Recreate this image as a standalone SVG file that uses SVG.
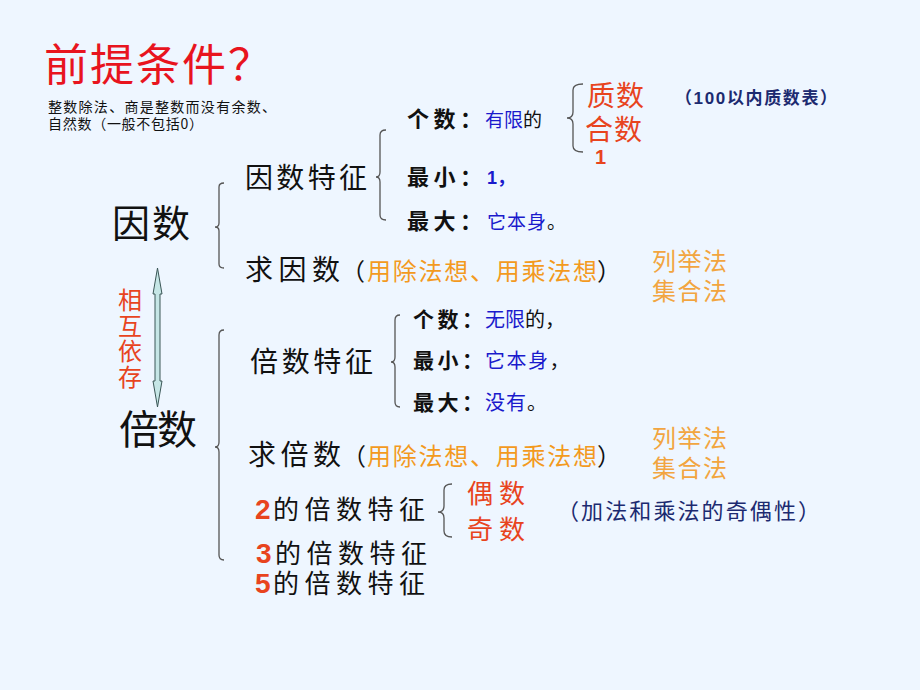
<svg xmlns="http://www.w3.org/2000/svg" width="920" height="690" viewBox="0 0 920 690">
<style>
text{font-family:"Noto Sans CJK SC","Noto Sans CJK JP",sans-serif;fill:#111}
.lat{font-family:"Liberation Sans","Noto Sans CJK SC",sans-serif}
.red{fill:#E8141E}
.ro{fill:#E8441E}
.or{fill:#F39A1E}
.lo{fill:#F2A540}
.bl{fill:#1A1ACC}
.nv{fill:#1C2A70}
.b{font-weight:bold}
.brace{fill:none;stroke:#555;stroke-width:1.3}
</style>
<rect width="920" height="690" fill="#EEF6FF"/>

<g id="title">
<text class="red" x="44" y="81" font-size="44" textLength="228" lengthAdjust="spacing">前提条件？</text>
<text x="48" y="112" font-size="14" textLength="228" lengthAdjust="spacing">整数除法、商是整数而没有余数、</text>
<text x="48" y="129" font-size="14" textLength="155" lengthAdjust="spacing">自然数（一般不包括0）</text>
</g>

<g id="yinshu">
<text x="112" y="237" font-size="38" textLength="78" lengthAdjust="spacing">因数</text>
</g>
<g id="beishu">
<text x="119" y="444" font-size="40" textLength="78" lengthAdjust="spacing">倍数</text>
</g>
<g id="xianghu">
<text class="ro" x="130" y="288" font-size="24" writing-mode="vertical-rl" letter-spacing="1.5">相互依存</text>
</g>

<g id="yinshu-tezheng">
<text x="245" y="188" font-size="28" textLength="122" lengthAdjust="spacing">因数特征</text>
</g>
<g id="yin-geshu">
<text class="b" x="407" y="127" font-size="22" textLength="75" lengthAdjust="spacing">个数：</text>
<text x="485" y="127" font-size="19"><tspan class="bl">有限</tspan>的</text>
</g>
<g id="yin-zuixiao">
<text class="b" x="407" y="185" font-size="22" textLength="75" lengthAdjust="spacing">最小：</text>
<text class="bl b lat" x="487" y="184" font-size="18">1，</text>
</g>
<g id="yin-zuida">
<text class="b" x="407" y="229" font-size="22" textLength="75" lengthAdjust="spacing">最大：</text>
<text x="487" y="229" font-size="19" letter-spacing="1"><tspan class="bl">它本身</tspan>。</text>
</g>
<g id="zhishu">
<text class="ro" x="587" y="106" font-size="28" textLength="57" lengthAdjust="spacing">质数</text>
<text class="nv b lat" x="675" y="104" font-size="17" textLength="162" lengthAdjust="spacing">（100以内质数表）</text>
</g>
<g id="heshu">
<text class="ro" x="585" y="140" font-size="28" textLength="57" lengthAdjust="spacing">合数</text>
</g>
<g id="one">
<text class="ro b lat" x="595" y="164" font-size="20">1</text>
</g>

<g id="qiu-yinshu">
<text x="245" y="280" font-size="28" textLength="95" lengthAdjust="spacing">求因数</text>
<text x="341" y="280" font-size="24">（</text>
<text class="or" x="367" y="280" font-size="24" textLength="230" lengthAdjust="spacing">用除法想、用乘法想</text>
<text x="597" y="280" font-size="24">）</text>
</g>
<g id="fangfa-1">
<text class="lo" x="652" y="270" font-size="24" textLength="75" lengthAdjust="spacing">列举法</text>
<text class="lo" x="652" y="300" font-size="24" textLength="75" lengthAdjust="spacing">集合法</text>
</g>

<g id="beishu-tezheng">
<text x="250" y="372" font-size="28" textLength="123" lengthAdjust="spacing">倍数特征</text>
</g>
<g id="bei-geshu">
<text class="b" x="413" y="327" font-size="21" textLength="70" lengthAdjust="spacing">个数：</text>
<text x="485" y="327" font-size="20"><tspan class="bl">无限</tspan>的，</text>
</g>
<g id="bei-zuixiao">
<text class="b" x="413" y="368" font-size="21" textLength="70" lengthAdjust="spacing">最小：</text>
<text x="485" y="368" font-size="20" letter-spacing="1.5"><tspan class="bl">它本身</tspan>，</text>
</g>
<g id="bei-zuida">
<text class="b" x="413" y="410" font-size="21" textLength="70" lengthAdjust="spacing">最大：</text>
<text x="485" y="410" font-size="20" letter-spacing="1"><tspan class="bl">没有</tspan>。</text>
</g>

<g id="qiu-beishu">
<text x="248" y="465" font-size="28" textLength="93" lengthAdjust="spacing">求倍数</text>
<text x="342" y="465" font-size="24">（</text>
<text class="or" x="367" y="465" font-size="24" textLength="230" lengthAdjust="spacing">用除法想、用乘法想</text>
<text x="597" y="465" font-size="24">）</text>
</g>
<g id="fangfa-2">
<text class="lo" x="652" y="447" font-size="24" textLength="75" lengthAdjust="spacing">列举法</text>
<text class="lo" x="652" y="477" font-size="24" textLength="75" lengthAdjust="spacing">集合法</text>
</g>

<g id="two-feature">
<text class="ro b lat" x="255" y="519" font-size="28">2</text>
<text x="273" y="519" font-size="26" textLength="152" lengthAdjust="spacing">的倍数特征</text>
</g>
<g id="oushu">
<text class="ro" x="467" y="503" font-size="26" textLength="58" lengthAdjust="spacing">偶数</text>
</g>
<g id="jishu">
<text class="ro" x="467" y="539" font-size="26" textLength="58" lengthAdjust="spacing">奇数</text>
</g>
<g id="jiou-note">
<text class="nv" x="557" y="519" font-size="22" textLength="263" lengthAdjust="spacing">（加法和乘法的奇偶性）</text>
</g>
<g id="three-feature">
<text class="ro b lat" x="256" y="563" font-size="28">3</text>
<text x="275" y="563" font-size="26" textLength="152" lengthAdjust="spacing">的倍数特征</text>
</g>
<g id="five-feature">
<text class="ro b lat" x="255" y="593" font-size="28">5</text>
<text x="273" y="593" font-size="26" textLength="152" lengthAdjust="spacing">的倍数特征</text>
</g>

<g id="connectors">
<path class="brace" d="M224,183 Q219,183 219,187 L219,223 Q219,227 215,227 Q219,227 219,231 L219,264 Q219,268 224,268"/>
<path class="brace" d="M386,130 Q380,130 380,135 L380,172 Q380,177 376,177 Q380,177 380,182 L380,215 Q380,220 386,220"/>
<path class="brace" d="M583,84 Q573,84 573,90 L573,112 Q573,118 567,118 Q573,118 573,124 L573,146 Q573,152 583,152"/>
<path class="brace" d="M224,330 Q219,330 219,335 L219,442 Q219,447 215,447 Q219,447 219,452 L219,555 Q219,560 224,560"/>
<path class="brace" d="M400,315 Q395,315 395,320 L395,357 Q395,362 391,362 Q395,362 395,367 L395,402 Q395,407 400,407"/>
<path class="brace" d="M452,484 Q444,484 444,490 L444,506 Q444,512 438,512 Q444,512 444,518 L444,531 Q444,537 452,537"/>
<polygon points="157.5,268 162,294 160,294 160,381 162,381 157.5,407 153,381 155,381 155,294 153,294" fill="#C5E6E6" stroke="#3A5656" stroke-width="1"/>
</g>
</svg>
